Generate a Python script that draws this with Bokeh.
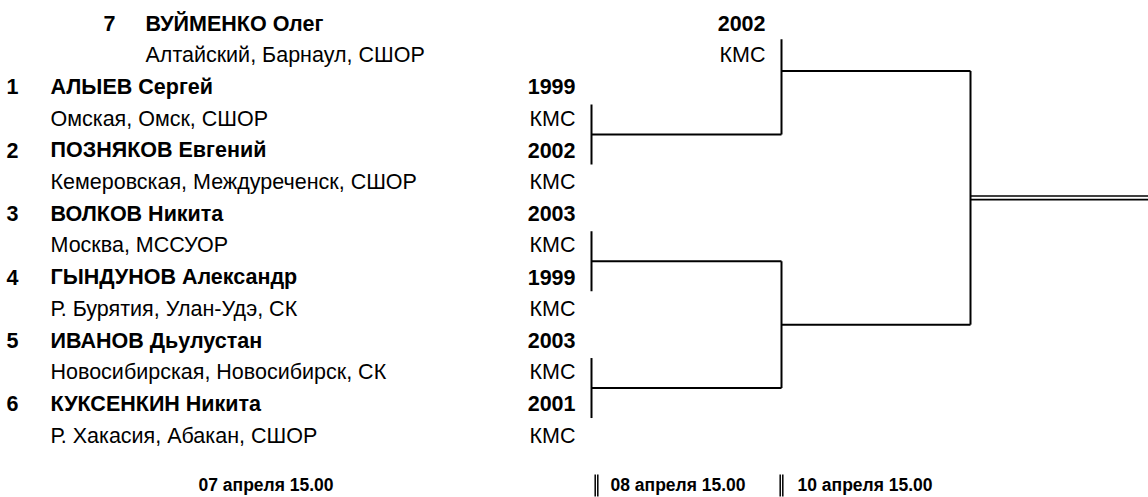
from bokeh.plotting import figure
from bokeh.models import Range1d, ColumnDataSource
from bokeh.core.properties import value
from bokeh.embed import file_html
from bokeh.resources import INLINE

# ---- data ----
seeds = ["7", "1", "2", "3", "4", "5", "6"]
names = ["ВУЙМЕНКО Олег", "АЛЫЕВ Сергей", "ПОЗНЯКОВ Евгений", "ВОЛКОВ Никита",
         "ГЫНДУНОВ Александр", "ИВАНОВ Дьулустан", "КУКСЕНКИН Никита"]
clubs = ["Алтайский, Барнаул, СШОР", "Омская, Омск, СШОР",
         "Кемеровская, Междуреченск, СШОР", "Москва, МССУОР",
         "Р. Бурятия, Улан-Удэ, СК", "Новосибирская, Новосибирск, СК",
         "Р. Хакасия, Абакан, СШОР"]
years = ["2002", "1999", "2002", "2003", "1999", "2003", "2001"]
ranks = ["КМС", "КМС", "КМС", "КМС", "КМС", "КМС", "КМС"]
dates = ["07 апреля 15.00", "08 апреля 15.00", "10 апреля 15.00"]

# ---- layout (page pixels) ----
FONT = value("Liberation Sans")
ROW0, STEP = 23.0, 31.7
W, H = 1148, 497


def row(k):
    return ROW0 + STEP * k


p = figure(width=W, height=H, output_backend="svg", toolbar_location=None,
           x_range=Range1d(0, W), y_range=Range1d(H, 0), min_border=0)
p.axis.visible = False
p.grid.visible = False
p.outline_line_color = None
p.background_fill_color = "white"
p.border_fill_color = "white"

# entry columns: the first (bye) entry sits further right
seed_x = [103] + [6] * 6
name_x = [145] + [50] * 6
year_x = [765] + [575] * 6
name_y = [row(2 * i) for i in range(7)]
club_y = [row(2 * i + 1) for i in range(7)]

src_n = ColumnDataSource(dict(sx=seed_x, nx=name_x, yx=year_x, y=name_y,
                              seed=seeds, name=names, year=years))
src_c = ColumnDataSource(dict(nx=name_x, yx=year_x, y=club_y, club=clubs, rank=ranks))

common = dict(text_font=FONT, text_font_size="21.5px", text_baseline="middle",
              text_color="black")
p.text(x="sx", y="y", text="seed", source=src_n, text_font_style="bold", **common)
p.text(x="nx", y="y", text="name", source=src_n, text_font_style="bold", **common)
p.text(x="yx", y="y", text="year", source=src_n, text_font_style="bold",
       text_align="right", **common)
p.text(x="nx", y="y", text="club", source=src_c, **common)
p.text(x="yx", y="y", text="rank", source=src_c, text_align="right", **common)

# ---- bracket lines ----
X1, X2, X3, XEND = 591, 781, 970, 1148
xs, ys = [], []
for j in range(3):
    c = row(3.5 + 4 * j)
    xs.append([X1, X1]); ys.append([c - 30, c + 30])
    xs.append([X1, X2]); ys.append([c, c])
# bye entry meets winner of pair 1
xs.append([X2, X2]); ys.append([row(0.5), row(3.5)])
xs.append([X2, X3]); ys.append([row(1.5), row(1.5)])
# pairs 2 & 3
xs.append([X2, X2]); ys.append([row(7.5), row(11.5)])
xs.append([X2, X3]); ys.append([row(9.5), row(9.5)])
# final
xs.append([X3, X3]); ys.append([row(1.5), row(9.5)])
p.multi_line(xs=xs, ys=ys, line_color="black", line_width=2)

yf = (row(1.5) + row(9.5)) / 2
p.multi_line(xs=[[X3, XEND], [X3, XEND]], ys=[[yf - 1.8, yf - 1.8], [yf + 1.8, yf + 1.8]],
             line_color="black", line_width=1.6)

# ---- dates ----
date_x = [198, 610, 797]
DY = 484
p.text(x=date_x, y=[DY] * 3, text=dates, text_font=FONT, text_font_size="17.5px",
       text_font_style="bold", text_baseline="middle", text_color="black")
bar_x = [596, 781]
bxs, bys = [], []
for bx in bar_x:
    for dx in (-1.3, 1.3):
        bxs.append([bx + dx, bx + dx]); bys.append([474, 496])
p.multi_line(xs=bxs, ys=bys, line_color="black", line_width=1.5)

open("out.html", "w").write(file_html(p, INLINE))
